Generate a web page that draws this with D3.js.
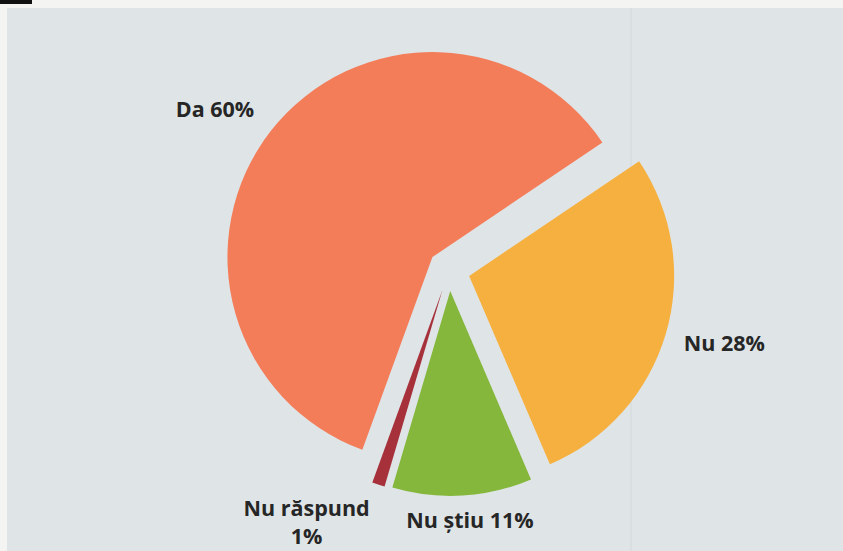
<!DOCTYPE html>
<html>
<head>
<meta charset="utf-8">
<script src="https://cdn.jsdelivr.net/npm/d3@7"></script>
<style>
  body { margin: 0; background: #f4f4f2; }
  svg { display: block; }
</style>
</head>
<body>
<svg width="843" height="551"></svg>
<script>
// datele
const categories = ['Nu', 'Nu știu', 'Nu răspund', 'Da'];
const values = [28, 11, 1, 60];
const labelLines = [['Nu 28%'], ['Nu știu 11%'], ['Nu răspund', '1%'], ['Da 60%']];
const colors = ['#f6b03f', '#84b73b', '#a6313a', '#f37d59'];

const svg = d3.select('svg');
const width = +svg.attr('width');
const height = +svg.attr('height');

// fundal
svg.append('rect')
  .attr('x', 7).attr('y', 8)
  .attr('width', width - 7).attr('height', height - 8)
  .attr('fill', '#dfe4e7');
svg.append('rect')
  .attr('x', 0).attr('y', 0)
  .attr('width', 32).attr('height', 4)
  .attr('fill', '#111');
svg.append('line')
  .attr('x1', 631).attr('x2', 631)
  .attr('y1', 8).attr('y2', height)
  .attr('stroke', '#d3d8db').attr('stroke-width', 1);

const cx = 449, cy = 270;
const radius = 205;
const explode = 21;
const start = 56 * Math.PI / 180;

const pie = d3.pie()
  .sort(null)
  .value((d) => d)
  .startAngle(start)
  .endAngle(start + 2 * Math.PI);

const arc = d3.arc().innerRadius(0).outerRadius(radius);
const arcs = pie(values);
const mid = (d) => (d.startAngle + d.endAngle) / 2;

const g = svg.append('g').attr('transform', `translate(${cx},${cy})`);

g.selectAll('path')
  .data(arcs)
  .join('path')
  .attr('d', arc)
  .attr('fill', (d, i) => colors[i])
  .attr('transform', (d) => {
    const a = mid(d);
    return `translate(${Math.sin(a) * explode},${-Math.cos(a) * explode})`;
  });

// plasarea etichetelor (raza, abatere unghi in grade)
const labelPlace = [
  { r: 285, da: -1.4 },
  { r: 251, da: -1.4 },
  { r: 290, da: 11.2 },
  { r: 284, da: -3.5 }
];

const lineH = 28;

// fiecare rand e un text separat
const rows = [];
arcs.forEach((d, i) => {
  const p = labelPlace[i];
  const a = mid(d) + p.da * Math.PI / 180;
  const x = Math.sin(a) * p.r;
  const y = -Math.cos(a) * p.r;
  const lines = labelLines[i];
  const y0 = y - (lines.length - 1) * lineH / 2 + 7.5;
  lines.forEach((t, k) => rows.push({ t, x, y: y0 + k * lineH }));
});

g.selectAll('text.lbl')
  .data(rows)
  .join('text')
  .attr('class', 'lbl')
  .attr('font-family', '"Open Sans", sans-serif')
  .attr('font-weight', 700)
  .attr('font-size', 21.5)
  .attr('fill', '#262626')
  .attr('text-anchor', 'middle')
  .attr('x', (d) => d.x)
  .attr('y', (d) => d.y)
  .text((d) => d.t);
</script>
</body>
</html>
